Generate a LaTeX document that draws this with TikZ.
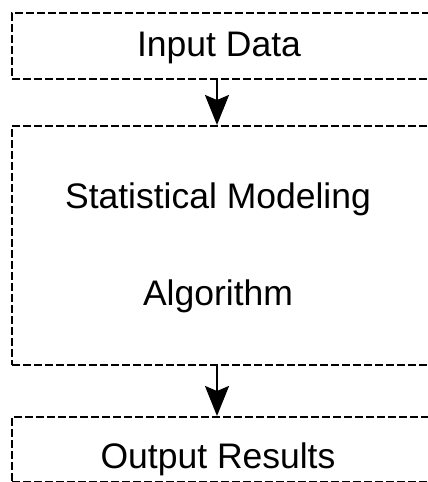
\documentclass[tikz,border=0pt]{standalone}
\usepackage{fontspec}
\setmainfont{Liberation Sans}
\usetikzlibrary{arrows.meta}
\begin{document}
\begin{tikzpicture}[x=1pt,y=-1pt,
  box/.style={draw=black, line width=2.2pt, dash pattern=on 8pt off 3pt, rectangle, anchor=north west, inner sep=0pt},
  lbl/.style={font=\fontsize{35.5}{40}\selectfont, anchor=base, inner sep=0pt},
  flow/.style={line width=2.2pt, -{Stealth[length=30pt,width=24pt,inset=5pt]}}]
\useasboundingbox (0,0) rectangle (428,482);
\clip (0,0) rectangle (428,482);
\node[box, minimum width=440pt, minimum height=66pt] (in) at (11,12) {};
\node[box, minimum width=440pt, minimum height=239pt] (mod) at (11,125) {};
\node[box, minimum width=440pt, minimum height=65pt] (out) at (11,416) {};
\node[lbl] (tin) at (219,56) {Input Data};
\node[lbl] (tmod1) at (218,208) {Statistical Modeling};
\node[lbl] (tmod2) at (218,305) {Algorithm};
\node[lbl] (tout) at (218,468) {Output Results};
\coordinate (ax) at (217,0);
\draw[flow] (in.south -| ax) -- (mod.north -| ax);
\draw[flow] (mod.south -| ax) -- (out.north -| ax);
\end{tikzpicture}
\end{document}
